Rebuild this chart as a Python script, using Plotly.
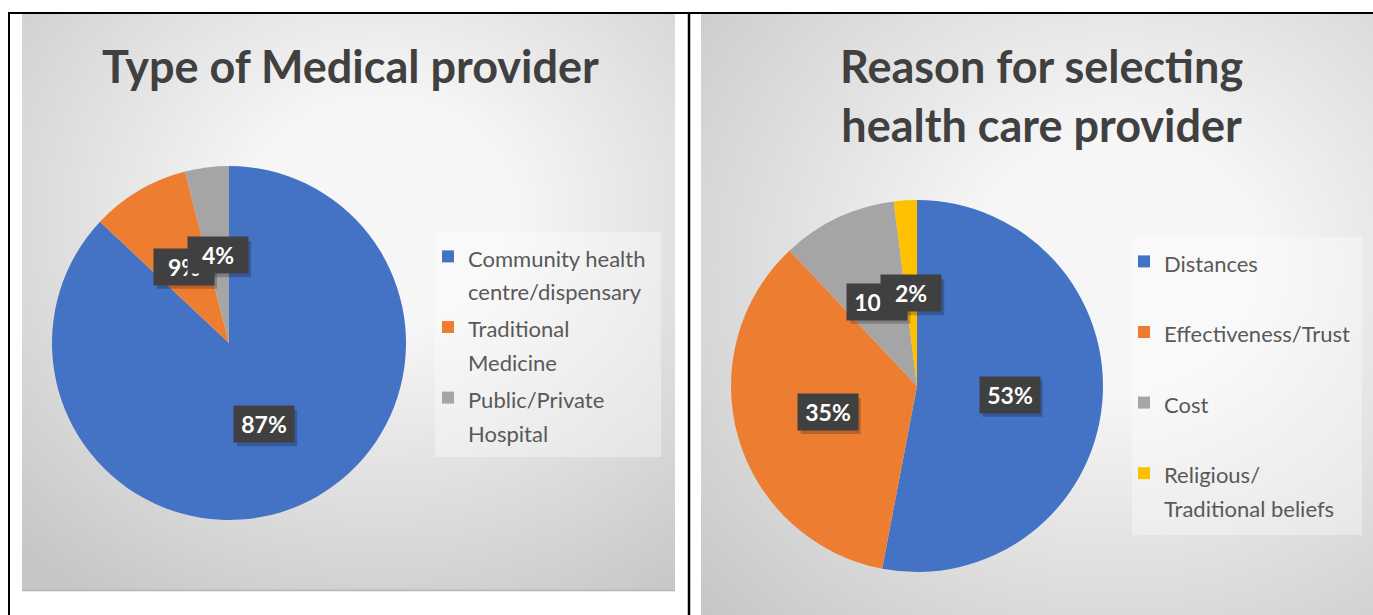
import base64
import math
import plotly.graph_objects as go

W, H = 1373, 615

# ---------------- data ----------------
left_title = "Type of Medical provider"
left_labels = ["Community health<br>centre/dispensary", "Traditional<br>Medicine", "Public/Private<br>Hospital"]
left_values = [87, 9, 4]
left_text = ["87%", "9%", "4%"]

right_title = "Reason for selecting<br>health care provider"
right_labels = ["Distances", "Effectiveness/Trust", "Cost", "Religious/<br>Traditional beliefs"]
right_values = [53, 35, 10, 2]
right_text = ["53%", "35%", "10%", "2%"]

left_colors = ["#4472C4", "#ED7D31", "#A5A5A5"]
right_colors = ["#4472C4", "#ED7D31", "#A5A5A5", "#FFC000"]

FONT = "Lato"
LEG_BASE = 26
LEG_SIZE = 22
BOX_W, BOX_H, PAD = 50, 26, 5


def px_x(x):
    return x / W


def px_y(y):
    return 1 - y / H


def legend_label(lab):
    lines = lab.split("<br>")
    if len(lines) < 2:
        lines.append("\u00a0")
    return "<br>".join(f"<span style='font-size:{LEG_SIZE}px'>{l}</span>" for l in lines)


def grad_svg(cx, cy, r, c0, c1):
    svg = (
        '<svg xmlns="http://www.w3.org/2000/svg" width="200" height="200" viewBox="0 0 200 200" '
        'preserveAspectRatio="none"><defs>'
        f'<radialGradient id="g" cx="{cx}" cy="{cy}" r="{r}">'
        f'<stop offset="0" stop-color="{c0}"/><stop offset="0.25" stop-color="{c0}"/>'
        f'<stop offset="1" stop-color="{c1}"/>'
        '</radialGradient></defs><rect width="200" height="200" fill="url(#g)"/></svg>'
    )
    return "data:image/svg+xml;base64," + base64.b64encode(svg.encode()).decode()


# pie geometry (pixels): centre and radius
pies = [
    dict(cx=229, cy=343, r=177, labels=left_labels, values=left_values, text=left_text,
         colors=left_colors, legend="legend"),
    dict(cx=917, cy=386, r=186, labels=right_labels, values=right_values, text=right_text,
         colors=right_colors, legend="legend2"),
]

fig = go.Figure()
annotations = []
shapes = []

for p in pies:
    fig.add_trace(go.Pie(
        labels=[legend_label(l) for l in p["labels"]],
        values=p["values"],
        sort=False,
        direction="clockwise",
        rotation=0,
        textinfo="none",
        marker=dict(colors=p["colors"], line=dict(width=0)),
        domain=dict(x=[px_x(p["cx"] - p["r"]), px_x(p["cx"] + p["r"])],
                    y=[px_y(p["cy"] + p["r"]), px_y(p["cy"] - p["r"])]),
        legend=p["legend"],
        hoverinfo="label+percent",
    ))
    total = sum(p["values"])
    cum = 0
    for v, t in zip(p["values"], p["text"]):
        mid = (cum + v / 2) / total * 2 * math.pi
        cum += v
        lx = p["cx"] + 0.5 * p["r"] * math.sin(mid)
        ly = p["cy"] - 0.5 * p["r"] * math.cos(mid)
        # soft drop shadow behind the data label
        hw, hh = BOX_W / 2 + PAD, BOX_H / 2 + PAD
        shapes.append(dict(type="rect", xref="paper", yref="paper", layer="above",
                           x0=px_x(lx - hw + 3), x1=px_x(lx + hw + 3),
                           y0=px_y(ly + hh + 4), y1=px_y(ly - hh + 4),
                           fillcolor="rgba(0,0,0,0.22)", line=dict(width=0)))
        annotations.append(dict(x=px_x(lx), y=px_y(ly), xref="paper", yref="paper", showarrow=False,
                                xanchor="center", yanchor="middle",
                                text=f"<b>{t}</b>", width=BOX_W, height=BOX_H, borderpad=PAD,
                                bgcolor="#404040",
                                font=dict(family=FONT, size=23, color="#FFFFFF")))

# titles
annotations.append(dict(x=px_x(350), y=px_y(66), xref="paper", yref="paper", showarrow=False,
                        text=f"<b>{left_title}</b>", xanchor="center", yanchor="middle",
                        font=dict(family=FONT, size=45, color="#404040")))
annotations.append(dict(x=px_x(1041), y=px_y(95), xref="paper", yref="paper", showarrow=False,
                        text=f"<b>{right_title}</b>",
                        xanchor="center", yanchor="middle",
                        font=dict(family=FONT, size=45, color="#404040")))

shapes += [
    # legend boxes
    dict(type="rect", xref="paper", yref="paper", x0=px_x(435), x1=px_x(661), y0=px_y(457), y1=px_y(232),
         fillcolor="rgba(255,255,255,0.35)", line=dict(width=0), layer="below"),
    dict(type="rect", xref="paper", yref="paper", x0=px_x(1132), x1=px_x(1362), y0=px_y(535), y1=px_y(237),
         fillcolor="rgba(255,255,255,0.35)", line=dict(width=0), layer="below"),
    # left panel bottom shadow
    dict(type="line", xref="paper", yref="paper", x0=px_x(22), x1=px_x(675), y0=px_y(590.5), y1=px_y(590.5),
         line=dict(color="#b5b5b5", width=1.5)),
    # table borders
    dict(type="line", xref="paper", yref="paper", x0=px_x(8), x1=1, y0=px_y(13), y1=px_y(13),
         line=dict(color="#000000", width=2)),
    dict(type="line", xref="paper", yref="paper", x0=px_x(9), x1=px_x(9), y0=px_y(12), y1=0,
         line=dict(color="#000000", width=2)),
    dict(type="line", xref="paper", yref="paper", x0=px_x(689), x1=px_x(689), y0=px_y(12), y1=0,
         line=dict(color="#000000", width=2.5)),
]

images = [
    dict(source=grad_svg(0.55, 0.35, 0.8, "#f6f6f6", "#c6c6c6"), xref="paper", yref="paper",
         x=px_x(22), y=px_y(14), sizex=px_x(675) - px_x(22), sizey=px_y(14) - px_y(590),
         xanchor="left", yanchor="top", sizing="stretch", layer="below"),
    dict(source=grad_svg(0.62, 0.42, 0.85, "#f6f6f6", "#c6c6c6"), xref="paper", yref="paper",
         x=px_x(701), y=px_y(14), sizex=1 - px_x(701), sizey=px_y(14),
         xanchor="left", yanchor="top", sizing="stretch", layer="below"),
]

leg_common = dict(bgcolor="rgba(0,0,0,0)", borderwidth=0, valign="top", xanchor="left", yanchor="top",
                  font=dict(family=FONT, size=LEG_BASE, color="#595959"), traceorder="normal")

fig.update_layout(
    width=W, height=H,
    margin=dict(l=0, r=0, t=0, b=0),
    paper_bgcolor="#FFFFFF",
    plot_bgcolor="#FFFFFF",
    showlegend=True,
    legend=dict(leg_common, x=px_x(428), y=px_y(233)),
    legend2=dict(leg_common, x=px_x(1124), y=px_y(238)),
    annotations=annotations,
    shapes=shapes,
    images=images,
)

fig.write_html("out.html")
